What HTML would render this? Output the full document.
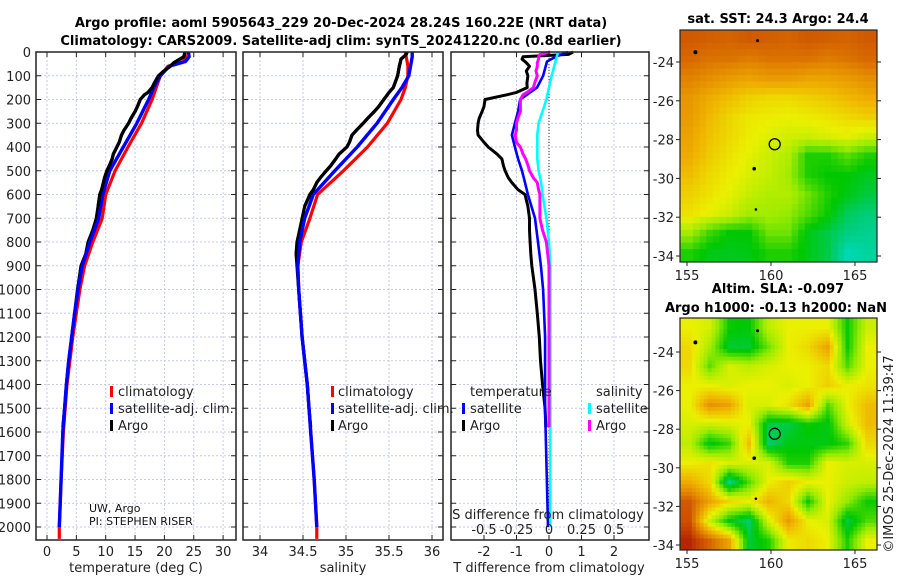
<!DOCTYPE html>
<html><head><meta charset="utf-8">
<style>
html,body{margin:0;padding:0;background:#fff;}
svg{display:block;font-family:"DejaVu Sans","Liberation Sans",sans-serif;}
.t{font-size:13px;font-weight:bold;fill:#000;}
.lbl{font-size:13px;fill:#222;}
.sm{font-size:11px;fill:#111;}
</style></head><body>
<svg id="root" width="900" height="580" viewBox="0 0 900 580" xmlns="http://www.w3.org/2000/svg">
<text class="t" x="341" y="27" text-anchor="middle">Argo profile: aoml 5905643_229 20-Dec-2024 28.24S 160.22E (NRT data)</text>
<text class="t" x="341" y="45" text-anchor="middle">Climatology: CARS2009. Satellite-adj clim: synTS_20241220.nc (0.8d earlier)</text>
<text class="t" x="778" y="23" text-anchor="middle">sat. SST: 24.3 Argo: 24.4</text>
<text class="t" x="778" y="293" text-anchor="middle">Altim. SLA: -0.097</text>
<text class="t" x="776" y="312" text-anchor="middle">Argo h1000: -0.13 h2000: NaN</text>
<text class="lbl" x="0" y="0" transform="translate(893,454) rotate(-90)" text-anchor="middle">©IMOS 25-Dec-2024 11:39:47</text>
<g id="plots"></g>
</svg>
<script>
// ---- data ----
const depthTicks=[0,100,200,300,400,500,600,700,800,900,1000,1100,1200,1300,1400,1500,1600,1700,1800,1900,2000];
const tempTicks=[0,5,10,15,20,25,30];
const salTicks=[34,34.5,35,35.5,36];
const salTickLabels=["34","34.5","35","35.5","36"];
const dTTicks=[-2,-1,0,1,2];
const dSTicks=[-0.5,-0.25,0,0.25,0.5];
const dSTickLabels=["-0.5","-0.25","0","0.25","0.5"];

const depthClim=[0,20,40,60,100,150,200,300,400,500,600,700,800,900,1000,1100,1200,1300,1400,1600,1800,2000,2050];
const tempClim=[23.5,23.6,23.2,20.6,19.3,18.6,17.9,16.1,13.8,11.6,10.0,9.4,7.8,6.4,5.6,5.0,4.4,3.9,3.4,2.8,2.4,2.1,2.1];
const tempSat=[24.1,24.2,23.6,20.8,19.3,18.2,17.3,15.3,13.0,10.7,9.5,8.8,7.3,6.0,5.3,4.7,4.2,3.7,3.3,2.7,2.4,2.1,2.1];
const salClim=[35.69,35.70,35.71,35.72,35.72,35.69,35.64,35.48,35.25,34.97,34.67,34.58,34.48,34.44,34.45,34.47,34.49,34.52,34.55,34.59,34.63,34.66,34.66];
const salSat=[35.77,35.77,35.76,35.75,35.73,35.65,35.55,35.36,35.13,34.87,34.62,34.52,34.46,34.44,34.45,34.47,34.49,34.52,34.55,34.59,34.63,34.66,34.66];

const depthArgo=[0,10,20,30,45,60,80,100,130,150,170,180,200,230,250,280,300,330,350,380,400,430,450,480,500,530,550,580,600,650,700,750,800,850,900,950,1000,1100,1200,1300,1400,1500,1580];
const tempArgo=[23.5,23.4,23.3,22.6,21.6,21.0,19.9,19.0,18.3,17.9,17.2,16.6,15.9,15.4,15.0,14.3,13.9,13.1,12.7,12.3,11.9,11.3,11.1,10.6,10.2,9.8,9.6,9.3,9.0,8.7,8.4,7.8,7.0,6.6,5.8,5.5,5.2,4.7,4.2,3.7,3.3,3.0,2.7];
const salArgo=[35.71,35.70,35.67,35.64,35.63,35.62,35.61,35.60,35.57,35.55,35.50,35.48,35.44,35.38,35.33,35.25,35.20,35.12,35.07,35.04,35.01,34.92,34.88,34.82,34.77,34.70,34.66,34.62,34.58,34.52,34.49,34.46,34.43,34.42,34.43,34.44,34.45,34.47,34.49,34.52,34.55,34.57,34.59];
const dTArgo=[0.74,0.6,-0.8,-0.83,-0.7,-0.6,-0.7,-0.65,-0.68,-0.67,-1.0,-1.3,-1.97,-2.0,-2.06,-2.15,-2.18,-2.2,-2.18,-2.0,-1.87,-1.6,-1.45,-1.4,-1.35,-1.25,-1.14,-0.95,-0.74,-0.65,-0.6,-0.6,-0.58,-0.56,-0.53,-0.48,-0.43,-0.36,-0.3,-0.26,-0.2,-0.12,-0.1];
const dSArgo=[0.01,-0.07,-0.08,-0.08,-0.09,-0.09,-0.1,-0.09,-0.11,-0.12,-0.17,-0.2,-0.22,-0.22,-0.22,-0.24,-0.25,-0.25,-0.26,-0.25,-0.22,-0.2,-0.18,-0.16,-0.15,-0.12,-0.09,-0.08,-0.07,-0.07,-0.07,-0.05,-0.02,-0.01,0.0,0.0,0.0,0.0,0.0,0.0,0.0,0.0,0.0];
const depthSatD=[0,20,40,100,150,200,250,300,350,400,450,500,550,600,700,800,900,1000,1200,1500,2000];
const dTSat=[0.58,0.2,-0.06,-0.18,-0.37,-0.89,-0.95,-1.05,-1.14,-1.05,-0.95,-0.83,-0.74,-0.65,-0.43,-0.34,-0.25,-0.18,-0.12,-0.12,-0.03];
const dSSat=[0.07,0.06,0.05,0.02,0.0,-0.02,-0.05,-0.08,-0.09,-0.09,-0.09,-0.08,-0.06,-0.05,-0.02,0.0,0.01,0.01,0.01,0.01,0.01];

const latTicks=[-24,-26,-28,-30,-32,-34];
const lonTicks=[155,160,165];
const sstGrid=[
[.88,.87,.86,.88,.87,.86,.88,.87,.86,.88],
[.85,.83,.83,.81,.83,.83,.83,.81,.83,.85],
[.8,.77,.74,.72,.74,.74,.72,.72,.74,.77],
[.75,.7,.66,.62,.6,.6,.62,.64,.67,.7],
[.74,.67,.61,.57,.56,.55,.56,.58,.6,.62],
[.72,.65,.6,.56,.53,.51,.5,.52,.54,.5],
[.7,.63,.58,.54,.5,.46,.3,.3,.36,.3],
[.66,.6,.56,.52,.49,.44,.3,.27,.27,.24],
[.62,.58,.54,.49,.46,.46,.38,.3,.25,.21],
[.58,.54,.5,.44,.44,.42,.35,.28,.18,.15],
[.44,.33,.27,.27,.38,.38,.25,.2,.14,.12],
[.3,.25,.24,.25,.3,.3,.25,.2,.07,.1]];
const slaGrid=[
[.55,.52,.28,.26,.48,.55,.55,.55,.28,.5],
[.6,.45,.22,.22,.38,.55,.6,.72,.28,.55],
[.6,.36,.52,.48,.52,.55,.55,.6,.35,.55],
[.55,.55,.52,.55,.55,.52,.55,.62,.55,.58],
[.55,.76,.72,.52,.52,.58,.72,.35,.55,.66],
[.52,.5,.52,.55,.2,.2,.28,.25,.5,.66],
[.48,.25,.33,.66,.16,.25,.25,.25,.32,.6],
[.55,.58,.52,.52,.52,.3,.3,.55,.52,.52],
[.7,.6,.12,.35,.55,.62,.55,.55,.5,.48],
[.88,.72,.6,.55,.68,.6,.28,.55,.42,.28],
[.9,.5,.26,.16,.52,.74,.55,.52,.2,.35],
[.97,.86,.72,.22,.3,.56,.6,.55,.3,.55]];

// ---- helpers ----
const NS="http://www.w3.org/2000/svg";
const G=document.getElementById('plots');
function mk(tag,attrs,parent){const e=document.createElementNS(NS,tag);for(const k in attrs)e.setAttribute(k,attrs[k]);(parent||G).appendChild(e);return e;}
const TOP=52,BOT=540;
const yD=d=>TOP+d*0.2375;
const xT=t=>47+t*5.87;
const xS=s=>260+(s-34)*86;
const xDT=v=>549+v*32.5;
const xDS=v=>549+v*130;
const panels=[{x0:36,x1:236,name:'temperature-panel'},{x0:243,x1:443,name:'salinity-panel'},{x0:451,x1:649,name:'difference-panel'}];

function grid(p,xs){
  const g=mk('g',{});
  
  
  depthTicks.forEach(d=>{mk('line',{x1:p.x0,x2:p.x1,y1:yD(d),y2:yD(d),stroke:'#c4cae8','stroke-width':1,'stroke-dasharray':'2,2'},g);});
  xs.forEach(x=>{mk('line',{x1:x,x2:x,y1:TOP,y2:BOT,stroke:'#c4cae8','stroke-width':1,'stroke-dasharray':'2,2'},g);});
}
function frame(p,xs,topTicks){
  const g=mk('g',{});
  
  
  mk('rect',{x:p.x0,y:TOP,width:p.x1-p.x0,height:BOT-TOP,fill:'none',stroke:'#222','stroke-width':1.5},g);
  depthTicks.forEach(d=>{mk('line',{x1:p.x0,x2:p.x0+5,y1:yD(d),y2:yD(d),stroke:'#222'},g);mk('line',{x1:p.x1-5,x2:p.x1,y1:yD(d),y2:yD(d),stroke:'#222'},g);});
  xs.forEach(x=>{mk('line',{x1:x,x2:x,y1:BOT-5,y2:BOT,stroke:'#222'},g);if(topTicks)mk('line',{x1:x,x2:x,y1:TOP,y2:TOP+5,stroke:'#222'},g);});
}
function line(ds,vs,fx,color,w,name){
  const pts=ds.map((d,i)=>fx(vs[i]).toFixed(1)+','+yD(d).toFixed(1)).join(' ');
  const e=mk('polyline',{points:pts,fill:'none',stroke:color,'stroke-width':w,'stroke-linejoin':'round'});
  
  
}
function txt(x,y,s,cls,anchor,name){
  const e=mk('text',{x:x,y:y,class:cls,'text-anchor':anchor||'start'});e.textContent=s;
  
  
  return e;
}
function legMark(x,y,color){const e=mk('rect',{x:x,y:y-10,width:3,height:11,fill:color});
  
  }
const nUpper=depthArgo.filter(d=>d<=650).length;

// panel 1: temperature
const p1=panels[0];
grid(p1,tempTicks.map(xT));
line(depthClim,tempClim,xT,'#ff0000',3.2,'climatology-temperature-line');
line(depthArgo,tempArgo,xT,'#000',3.2,'argo-temperature-line');
line(depthClim.slice(0,-1),tempSat.slice(0,-1),xT,'#0000ff',3.4,'satellite-temperature-line');
line(depthArgo.slice(0,nUpper),tempArgo.slice(0,nUpper),xT,'#000',3.2,'argo-temperature-line-upper');
frame(p1,tempTicks.map(xT),true);
depthTicks.forEach(d=>txt(31,yD(d)+5,String(d),'lbl','end','depth-tick-label'));
tempTicks.forEach(t=>txt(xT(t),556,String(t),'lbl','middle','temperature-tick-label'));
txt(136,572,'temperature (deg C)','lbl','middle','temperature-axis-title');
legMark(110,396,'#f00');txt(118,396,'climatology','lbl','start','legend-climatology');
legMark(110,413,'#00f');txt(118,413,'satellite-adj. clim.','lbl','start','legend-satellite-adj');
legMark(110,430,'#000');txt(118,430,'Argo','lbl','start','legend-argo');
txt(89,512,'UW, Argo','sm','start','institution-note');
txt(89,525,'PI: STEPHEN RISER','sm','start','pi-note');

// panel 2: salinity
const p2=panels[1];
grid(p2,salTicks.map(xS));
line(depthClim,salClim,xS,'#ff0000',3.2,'climatology-salinity-line');
line(depthArgo,salArgo,xS,'#000',3.2,'argo-salinity-line');
line(depthClim.slice(0,-1),salSat.slice(0,-1),xS,'#0000ff',3.4,'satellite-salinity-line');
line(depthArgo.slice(0,nUpper),salArgo.slice(0,nUpper),xS,'#000',3.2,'argo-salinity-line-upper');
frame(p2,salTicks.map(xS),true);
salTicks.forEach((s,i)=>txt(xS(s),556,salTickLabels[i],'lbl','middle','salinity-tick-label'));
txt(343,572,'salinity','lbl','middle','salinity-axis-title');
legMark(331,396,'#f00');txt(338,396,'climatology','lbl','start','legend-climatology-2');
legMark(331,413,'#00f');txt(338,413,'satellite-adj. clim.','lbl','start','legend-satellite-adj-2');
legMark(331,430,'#000');txt(338,430,'Argo','lbl','start','legend-argo-2');

// panel 3: differences
const p3=panels[2];
grid(p3,dTTicks.map(xDT));
const zl=mk('line',{x1:549,x2:549,y1:TOP,y2:BOT,stroke:'#333','stroke-width':1,'stroke-dasharray':'1,2'});


line(depthArgo,dTArgo,xDT,'#000',3,'argo-t-difference-line');
line(depthSatD,dTSat,xDT,'#0000ff',2.6,'satellite-t-difference-line');
line(depthSatD,dSSat,xDS,'#00ffff',2.6,'satellite-s-difference-line');
line(depthArgo,dSArgo,xDS,'#ff00ff',3,'argo-s-difference-line');
frame(p3,dTTicks.map(xDT),true);
dTTicks.forEach(t=>txt(xDT(t),556,String(t),'lbl','middle','t-diff-tick-label'));
txt(549,572,'T difference from climatology','lbl','middle','t-diff-axis-title');
txt(548,519,'S difference from climatology','lbl','middle','s-diff-axis-title');
dSTicks.forEach((s,i)=>txt(xDS(s),534,dSTickLabels[i],'lbl','middle','s-diff-tick-label'));
txt(470,396,'temperature','lbl','start','legend-temperature-header');
legMark(462,413,'#00f');txt(470,413,'satellite','lbl','start','legend-t-satellite');
legMark(462,430,'#000');txt(470,430,'Argo','lbl','start','legend-t-argo');
txt(596,396,'salinity','lbl','start','legend-salinity-header');
legMark(588,413,'#0ff');txt(596,413,'satellite','lbl','start','legend-s-satellite');
legMark(588,430,'#f0f');txt(596,430,'Argo','lbl','start','legend-s-argo');

// ---- maps ----
const stops=[[0,[0,225,235]],[0.15,[0,205,120]],[0.27,[0,200,0]],[0.42,[150,235,0]],[0.55,[235,240,0]],[0.68,[240,180,0]],[0.8,[225,130,0]],[0.92,[200,70,0]],[1,[170,20,0]]];
function cmap(v){for(let i=1;i<stops.length;i++){if(v<=stops[i][0]){const a=stops[i-1],b=stops[i];const f=(v-a[0])/(b[0]-a[0]);return 'rgb('+a[1].map((c,j)=>Math.round(c+(b[1][j]-c)*f)).join(',')+')';}}return 'rgb(170,20,0)';}
function mapPanel(m,gridv,name,up){
  const g=mk('g',{});
  
  
  const R=gridv.length,C=gridv[0].length,n=up;
  const w=(m.x1-m.x0)/(C*n),h=(m.y1-m.y0)/(R*n);
  for(let r=0;r<R*n;r++)for(let c=0;c<C*n;c++){
    const fr=Math.min(Math.max((r+0.5)/n-0.5,0),R-1),fc=Math.min(Math.max((c+0.5)/n-0.5,0),C-1);
    const r0=Math.floor(fr),c0=Math.floor(fc),r1=Math.min(r0+1,R-1),c1=Math.min(c0+1,C-1),a=fr-r0,b=fc-c0;
    const v=(1-a)*((1-b)*gridv[r0][c0]+b*gridv[r0][c1])+a*((1-b)*gridv[r1][c0]+b*gridv[r1][c1]);
    mk('rect',{x:(m.x0+c*w).toFixed(2),y:(m.y0+r*h).toFixed(2),width:(w+0.4).toFixed(2),height:(h+0.4).toFixed(2),fill:cmap(v)},g);
  }
  mk('rect',{x:m.x0,y:m.y0,width:m.x1-m.x0,height:m.y1-m.y0,fill:'none',stroke:'#222','stroke-width':1.2},g);
  const yL=l=>m.ly0+(l+24)/(-10)*(m.ly1-m.ly0);
  const xL=l=>687+(l-155)*16.8;
  latTicks.forEach(l=>{const y=yL(l);mk('line',{x1:m.x0-4,x2:m.x0,y1:y,y2:y,stroke:'#222'},g);mk('line',{x1:m.x1,x2:m.x1+4,y1:y,y2:y,stroke:'#222'},g);txt(674,y+5,String(l),'lbl','end','latitude-tick-label');});
  lonTicks.forEach(l=>{const x=xL(l);mk('line',{x1:x,x2:x,y1:m.y1,y2:m.y1+4,stroke:'#222'},g);txt(x,m.y1+18,String(l),'lbl','middle','longitude-tick-label');});
  const c=mk('circle',{cx:xL(160.22),cy:yL(-28.24),r:5.5,fill:'none',stroke:'#000','stroke-width':1.3});
  
  
  [[155.5,-23.5,2],[159.2,-22.9,1.5],[159,-29.5,1.8],[159.1,-31.6,1.3]].forEach(p=>mk('circle',{cx:xL(p[0]),cy:yL(p[1]),r:p[2],fill:'#000'},g));
}
mapPanel({x0:680,x1:877,y0:30,y1:262,ly0:62,ly1:256},sstGrid,'sst-map',3);
mapPanel({x0:680,x1:877,y0:318,y1:550,ly0:352,ly1:545},slaGrid,'sla-map',5);
</script>
</body></html>
